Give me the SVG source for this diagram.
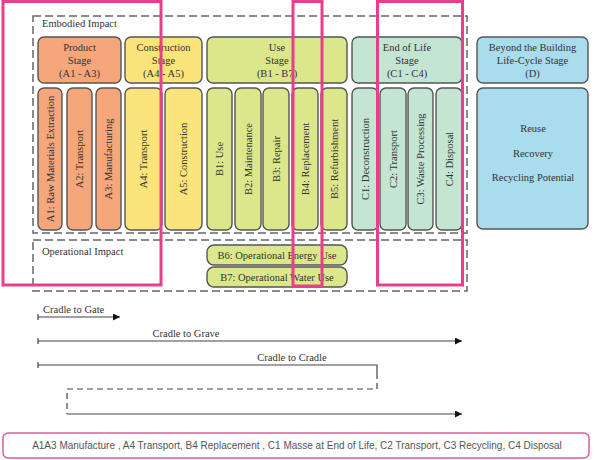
<svg xmlns="http://www.w3.org/2000/svg" width="594" height="460" viewBox="0 0 594 460">
<defs>
<style>
.t{font-family:"Liberation Serif","Times New Roman",serif;font-size:10.5px;fill:#333;}
.c{text-anchor:middle;}
.v{text-anchor:middle;dominant-baseline:central;}
.box{stroke:#555;stroke-width:1.4;}
.pA{fill:#f5a77b;}
.pB{fill:#fce47c;}
.pC{fill:#dbe78a;}
.pD{fill:#c3e5d2;}
.pE{fill:#a9dcec;}
.dash{fill:none;stroke:#666;stroke-width:1.5;stroke-dasharray:8 4;}
.ln{fill:none;stroke:#444;stroke-width:1.2;}
.hl{fill:none;stroke:#e83e8c;stroke-width:3;}
</style>
<marker id="arr" viewBox="0 0 10 10" refX="10" refY="5" markerWidth="10" markerHeight="7" markerUnits="userSpaceOnUse" orient="auto">
<path d="M0,0 L10,5 L0,10 z" fill="#111"/>
</marker>
</defs>
<rect width="594" height="460" fill="#fff"/>

<g id="embodied-impact">
<rect class="dash" x="33" y="16" width="434" height="217"/>
<text class="t" x="42" y="27">Embodied Impact</text>
</g>
<g id="operational-impact">
<rect class="dash" x="33" y="240" width="434" height="51"/>
<text class="t" x="42" y="255">Operational Impact</text>
</g>

<g id="product-stage">
<rect class="box pA" x="38" y="37" width="83" height="46" rx="6"/>
<text class="t c" x="79.5" y="51">Product</text>
<text class="t c" x="79.5" y="64">Stage</text>
<text class="t c" x="79.5" y="77">(A1 - A3)</text>
</g>
<g id="a1"><rect class="box pA" x="38" y="88" width="24" height="142" rx="6"/>
<text class="t v" transform="translate(50,159) rotate(-90)">A1: Raw Materials Extraction</text></g>
<g id="a2"><rect class="box pA" x="67" y="88" width="25" height="142" rx="6"/>
<text class="t v" transform="translate(79.5,159) rotate(-90)">A2: Transport</text></g>
<g id="a3"><rect class="box pA" x="96" y="88" width="25" height="142" rx="6"/>
<text class="t v" transform="translate(108.5,159) rotate(-90)">A3: Manufacturing</text></g>

<g id="construction-stage">
<rect class="box pB" x="125" y="37" width="77" height="46" rx="6"/>
<text class="t c" x="163.5" y="51">Construction</text>
<text class="t c" x="163.5" y="64">Stage</text>
<text class="t c" x="163.5" y="77">(A4 - A5)</text>
</g>
<g id="a4"><rect class="box pB" x="125" y="88" width="37" height="142" rx="6"/>
<text class="t v" transform="translate(143.5,159) rotate(-90)">A4: Transport</text></g>
<g id="a5"><rect class="box pB" x="165" y="88" width="37" height="142" rx="6"/>
<text class="t v" transform="translate(183.5,159) rotate(-90)">A5: Construction</text></g>

<g id="use-stage">
<rect class="box pC" x="207" y="37" width="140" height="46" rx="6"/>
<text class="t c" x="277" y="51">Use</text>
<text class="t c" x="277" y="64">Stage</text>
<text class="t c" x="277" y="77">(B1 - B7)</text>
</g>
<g id="b1"><rect class="box pC" x="207" y="88" width="25" height="142" rx="6"/>
<text class="t v" transform="translate(219.5,159) rotate(-90)">B1: Use</text></g>
<g id="b2"><rect class="box pC" x="235" y="88" width="26" height="142" rx="6"/>
<text class="t v" transform="translate(248,159) rotate(-90)">B2: Maintenance</text></g>
<g id="b3"><rect class="box pC" x="263" y="88" width="26" height="142" rx="6"/>
<text class="t v" transform="translate(276,159) rotate(-90)">B3: Repair</text></g>
<g id="b4"><rect class="box pC" x="292" y="88" width="26" height="142" rx="6"/>
<text class="t v" transform="translate(305,159) rotate(-90)">B4: Replacement</text></g>
<g id="b5"><rect class="box pC" x="321" y="88" width="26" height="142" rx="6"/>
<text class="t v" transform="translate(334,159) rotate(-90)">B5: Refurbishment</text></g>

<g id="end-of-life-stage">
<rect class="box pD" x="352" y="37" width="110" height="46" rx="6"/>
<text class="t c" x="407" y="51">End of Life</text>
<text class="t c" x="407" y="64">Stage</text>
<text class="t c" x="407" y="77">(C1 - C4)</text>
</g>
<g id="c1"><rect class="box pD" x="352" y="88" width="26" height="142" rx="6"/>
<text class="t v" transform="translate(365,159) rotate(-90)">C1: Deconstruction</text></g>
<g id="c2"><rect class="box pD" x="380" y="88" width="26" height="142" rx="6"/>
<text class="t v" transform="translate(393,159) rotate(-90)">C2: Transport</text></g>
<g id="c3"><rect class="box pD" x="408" y="88" width="25" height="142" rx="6"/>
<text class="t v" transform="translate(420.5,159) rotate(-90)">C3: Waste Processing</text></g>
<g id="c4"><rect class="box pD" x="436" y="88" width="26" height="142" rx="6"/>
<text class="t v" transform="translate(449,159) rotate(-90)">C4: Disposal</text></g>

<g id="beyond-stage">
<rect class="box pE" x="477" y="37" width="111" height="46" rx="6"/>
<text class="t c" x="532.5" y="51">Beyond the Building</text>
<text class="t c" x="532.5" y="64">Life-Cycle Stage</text>
<text class="t c" x="532.5" y="77">(D)</text>
</g>
<g id="d-benefits">
<rect class="box pE" x="477" y="88" width="111" height="141" rx="6"/>
<text class="t c" x="533" y="132">Reuse</text>
<text class="t c" x="533" y="157">Recovery</text>
<text class="t c" x="533" y="181">Recycling Potential</text>
</g>

<g id="b6"><rect class="box pC" x="207" y="245" width="140" height="20" rx="7"/>
<text class="t c" x="277" y="259">B6: Operational Energy Use</text></g>
<g id="b7"><rect class="box pC" x="207" y="267" width="140" height="20" rx="7"/>
<text class="t c" x="277" y="281">B7: Operational Water Use</text></g>

<g id="connectors">
<line class="ln" x1="38" y1="317" x2="120" y2="317" marker-end="url(#arr)"/>
<line class="ln" x1="38" y1="314" x2="38" y2="320"/>
<line class="ln" x1="38" y1="341" x2="462" y2="341" marker-end="url(#arr)"/>
<line class="ln" x1="38" y1="338" x2="38" y2="344"/>
<polyline class="ln" points="38,365 377,365 377,373"/>
<line class="ln" x1="38" y1="362" x2="38" y2="368"/>
<polyline class="ln" points="377,373 377,389 67,389 67,414" stroke-dasharray="6 4"/>
<line class="ln" x1="67" y1="414" x2="462" y2="414" marker-end="url(#arr)"/>
</g>
<g id="labels">
<text class="t" x="43" y="313">Cradle to Gate</text>
<text class="t c" x="186" y="337">Cradle to Grave</text>
<text class="t c" x="292" y="361">Cradle to Cradle</text>
</g>

<g id="highlights">
<rect class="hl" x="3" y="1.5" width="158" height="283.5"/>
<rect class="hl" x="293" y="1.5" width="29" height="284.5"/>
<rect class="hl" x="377.5" y="1.5" width="85" height="283.5"/>
</g>

<g id="legend">
<rect x="3" y="433" width="586" height="25" rx="5" fill="#fff" stroke="#e05a9c" stroke-width="1.5"/>
<text x="297" y="449" text-anchor="middle" font-family="Liberation Sans, Arial, sans-serif" font-size="10" fill="#555">A1A3 Manufacture , A4 Transport, B4 Replacement , C1 Masse at End of Life, C2 Transport, C3 Recycling, C4 Disposal</text>
</g>
</svg>
